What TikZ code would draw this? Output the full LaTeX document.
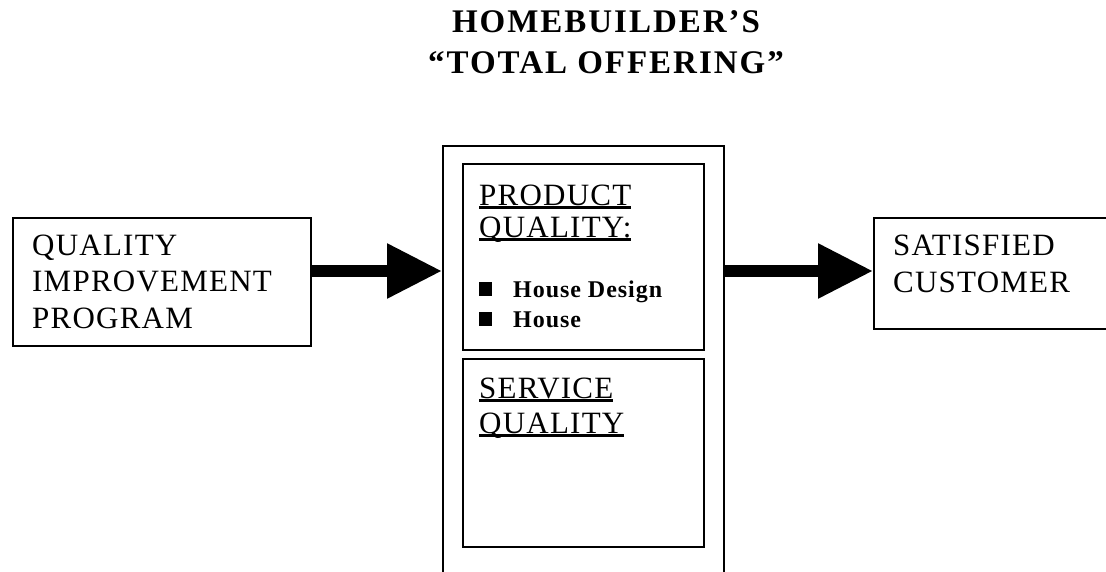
\documentclass[tikz,border=0pt]{standalone}
\usepackage{fontspec}
\setmainfont{Liberation Serif}
\newfontfamily\boxfont[LetterSpace=4]{Liberation Serif}
\newfontfamily\headfont[LetterSpace=6]{Liberation Serif}
\usepackage{tikz}
\usetikzlibrary{arrows.meta}
\newcommand\undl[1]{\setbox0=\hbox{#1}\rlap{\rule[-4pt]{\wd0}{3pt}}\box0}
\newcommand\sqbul{\rule[1pt]{13pt}{14pt}\hspace{21pt}}

\begin{document}
\begin{tikzpicture}[x=1pt,y=-1pt,
		box/.style={draw, line width=1.6pt, inner sep=0pt, anchor=north west},
		txt/.style={inner sep=0pt, anchor=base west, align=left},
		bigarrow/.style={line width=12pt, -{Triangle[length=55pt,width=52pt]}}]
			%%%%% START %%%%%
			\useasboundingbox (0,0) rectangle (1106,571);
			\clip (0,0) rectangle (1106,571);
			
			% (base of a text block is the baseline of its last line)
			\node[inner sep=0pt, anchor=base, align=center,
				font=\headfont\fontsize{33}{41}\selectfont\bfseries] (title) at (606,73)
				{HOMEBUILDER’S\\“TOTAL OFFERING”};
			
			% left and right boxes
			\node[box, minimum width=298pt, minimum height=128pt] (qip) at (12,217) {};
			\node[txt, font=\boxfont\fontsize{31}{36.5}\selectfont] (qiptext) at (32,328)
				{QUALITY\\IMPROVEMENT\\PROGRAM};
			
			\node[box, minimum width=260pt, minimum height=111pt] (cust) at (873,217) {};
			\node[txt, font=\boxfont\fontsize{31}{37}\selectfont] (custtext) at (893,292)
				{SATISFIED\\CUSTOMER};
			
			% the offering in the middle
			\node[box, minimum width=281pt, minimum height=470pt] (offer) at (442,145) {};
			
			\node[box, minimum width=241pt, minimum height=186pt] (prod) at (462,163) {};
			\node[txt, font=\boxfont\fontsize{31}{32}\selectfont] (prodtext) at (479,237)
				{\undl{PRODUCT}\\\undl{QUALITY:}};
			\node[txt, font=\boxfont\fontsize{24}{30}\selectfont\bfseries] (prodlist) at (479,327)
				{\sqbul House Design\\\sqbul House};
			
			\node[box, minimum width=241pt, minimum height=188pt] (serv) at (462,358) {};
			\node[txt, font=\boxfont\fontsize{31}{35}\selectfont] (servtext) at (479,433)
				{\undl{SERVICE}\\\undl{QUALITY}};
			
			% arrows
			\coordinate (lvl) at (0,271);
			\draw[bigarrow] (qip.east |- lvl) -- (offer.west |- lvl);
			\draw[bigarrow] (offer.east |- lvl) -- (cust.west |- lvl);
			
			%%%%% END %%%%%
		\end{tikzpicture}
\end{document}
